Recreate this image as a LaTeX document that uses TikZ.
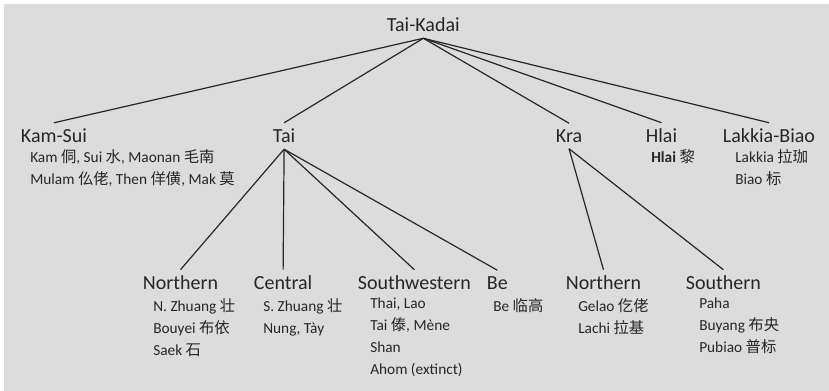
\documentclass[tikz,border=0pt]{standalone}
\usepackage{fontspec}
\setmainfont{Carlito}
\newfontfamily\cjk{Noto Sans CJK SC}
\newcommand{\zh}[1]{{\cjk #1}}
\usepackage{tikz}

\definecolor{panel}{HTML}{DCDCDC}
\definecolor{ink}{HTML}{262626}

\begin{document}
\begin{tikzpicture}[
    x=0.75pt, y=-0.75pt,
    group/.style={anchor=west, inner xsep=2pt, inner ysep=4.5pt, text=ink,
        font=\fontsize{15}{17}\selectfont},
    members/.style={anchor=north west, inner sep=0pt, align=left, text=ink,
        font=\fontsize{11.5}{16.5}\selectfont},
    branch/.style={draw=ink, line width=0.9pt}
]

% Background
\fill[white] (0,0) rectangle (829,391);
\fill[panel] (4,4) rectangle (829,391);

% Root
\node[group] (kadai) at (384,25) {Tai-Kadai};

% First level
\node[group] (kamsui) at (18,136) {Kam-Sui};
\node[group] (tai) at (270,136) {Tai};
\node[group] (kra) at (553,136) {Kra};
\node[group] (hlai) at (643,136) {Hlai};
\node[group] (lakkia) at (720,136) {Lakkia-Biao};

\node[members] (kamsuiList) at (30,149) {Kam \zh{侗}, Sui \zh{水}, Maonan \zh{毛南}\\Mulam \zh{仫佬}, Then \zh{佯僙}, Mak \zh{莫}};
\node[members] (hlaiList) at (651,149) {\textbf{Hlai} \zh{黎}};
\node[members] (lakkiaList) at (735,149) {Lakkia \zh{拉珈}\\Biao \zh{标}};

% Second level (Tai)
\node[group] (taiNorth) at (140,283) {Northern};
\node[group] (taiCentral) at (251,283) {Central};
\node[group] (taiSW) at (355,283) {Southwestern};
\node[group] (taiBe) at (484,283) {Be};

\node[members] (taiNorthList) at (153,298) {N. Zhuang \zh{壮}\\Bouyei \zh{布依}\\Saek \zh{石}};
\node[members] (taiCentralList) at (263,298) {S. Zhuang \zh{壮}\\Nung, Tày};
\node[members] (taiSWList) at (370,298) {Thai, Lao\\Tai \zh{傣}, Mène\\Shan\\Ahom (extinct)};
\node[members] (taiBeList) at (493,298) {Be \zh{临高}};

% Second level (Kra)
\node[group] (kraNorth) at (563,283) {Northern};
\node[group] (kraSouth) at (683,283) {Southern};

\node[members] (kraNorthList) at (578,298) {Gelao \zh{仡佬}\\Lachi \zh{拉基}};
\node[members] (kraSouthList) at (699,298) {Paha\\Buyang \zh{布央}\\Pubiao \zh{普标}};

% Branches
\foreach \child in {kamsui, tai, kra, hlai, lakkia}
    \draw[branch] (kadai.south) -- (\child.north);
\foreach \child in {taiNorth, taiCentral, taiSW, taiBe}
    \draw[branch] (tai.south) -- (\child.north);
\foreach \child in {kraNorth, kraSouth}
    \draw[branch] (kra.south) -- (\child.north);

\end{tikzpicture}
\end{document}
